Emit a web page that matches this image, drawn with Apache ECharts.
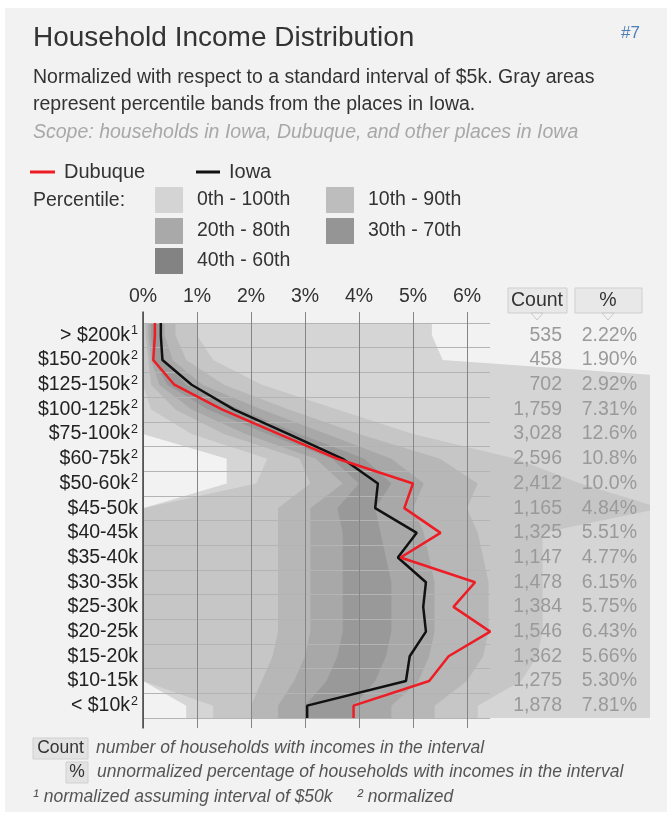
<!DOCTYPE html>
<html>
<head>
<meta charset="utf-8">
<script src="https://cdn.jsdelivr.net/npm/echarts@6/dist/echarts.min.js"></script>
<style>
  html, body { margin: 0; padding: 0; background: #fff; }
  #panel { position: absolute; left: 5px; top: 8px; width: 662px; height: 804px; background: #f2f2f2; }
  #chart { position: absolute; left: 0; top: 0; width: 672px; height: 816px; }
</style>
</head>
<body>
<div id="panel"></div>
<div id="chart"></div>
<script>
// income brackets, top to bottom
const brackets = ['> $200k', '$150-200k', '$125-150k', '$100-125k', '$75-100k', '$60-75k', '$50-60k',
  '$45-50k', '$40-45k', '$35-40k', '$30-35k', '$25-30k', '$20-25k', '$15-20k', '$10-15k', '< $10k'];
const notes = ['1', '2', '2', '2', '2', '2', '2', '', '', '', '', '', '', '', '', '2'];
const counts = [535, 458, 702, 1759, 3028, 2596, 2412, 1165, 1325, 1147, 1478, 1384, 1546, 1362, 1275, 1878];
const shares = [2.22, 1.90, 2.92, 7.31, 12.6, 10.8, 10.0, 4.84, 5.51, 4.77, 6.15, 5.75, 6.43, 5.66, 5.30, 7.81];

// normalized % per $5k
const dubuque = [0.22, 0.19, 0.58, 1.46, 2.52, 3.6, 5.0, 4.84, 5.51, 4.77, 6.15, 5.75, 6.43, 5.66, 5.30, 3.9];
const iowa = [0.33, 0.36, 0.9, 1.68, 2.7, 3.7, 4.35, 4.3, 5.07, 4.72, 5.24, 5.19, 5.24, 4.94, 4.87, 3.04];

// percentile bands from the places in Iowa
const p0 = [0, 0, 0, 0, 0, 1.55, 1.55, 0, 0, 0, 0, 0, 0, 0, 0, 0.8];
const p10 = [0, 0, 0, 0.15, 0.9, 2.3, 2.1, 0, 0, 0, 0, 0, 0, 0, 0, 1.3];
const p20 = [0.05, 0.1, 0.15, 0.6, 1.5, 2.9, 3.1, 2.5, 2.5, 2.5, 2.5, 2.5, 2.5, 2.4, 2.2, 2.0];
const p30 = [0.1, 0.15, 0.3, 0.9, 1.9, 3.2, 3.7, 3.1, 3.1, 3.1, 3.1, 3.1, 3.1, 3.0, 2.8, 2.5];
const p40 = [0.15, 0.2, 0.45, 1.2, 2.3, 3.5, 4.0, 3.6, 3.7, 3.7, 3.7, 3.7, 3.7, 3.6, 3.4, 3.0];
const p60 = [0.3, 0.4, 0.8, 1.8, 2.9, 4.1, 4.6, 4.3, 4.4, 4.5, 4.6, 4.6, 4.6, 4.5, 4.3, 3.9];
const p70 = [0.4, 0.55, 1.1, 2.2, 3.4, 4.6, 5.2, 5.0, 5.2, 5.3, 5.4, 5.4, 5.4, 5.3, 5.1, 4.6];
const p80 = [0.6, 0.8, 1.5, 2.7, 4.0, 5.5, 6.2, 6.0, 6.2, 6.3, 6.4, 6.4, 6.4, 6.3, 6.0, 5.4];
const p90 = [1.0, 1.3, 2.2, 3.6, 5.0, 6.9, 8.1, 9.6, 7.4, 7.4, 7.4, 7.4, 7.4, 7.3, 7.0, 6.2];
const p100 = [5.35, 5.55, 12, 12, 12, 12, 12, 12, 12, 12, 12, 12, 12, 12, 12, 12];

const bandNames = ['0th - 100th', '10th - 90th', '20th - 80th', '30th - 70th', '40th - 60th'];
const bandLo = [p0, p10, p20, p30, p40];
const bandHi = [p100, p90, p80, p70, p60];
const bandFill = ['#d5d5d5', '#c6c6c6', '#b7b7b7', '#a8a8a8', '#999999'];
const swatchFill = ['#d4d4d4', '#bdbdbd', '#a9a9a9', '#959595', '#838383'];

const FONT = '"Liberation Sans", Arial, sans-serif';
const n = brackets.length;
const X_MAX = 9.39;

// points at row centres, stretched to the top and bottom edges
const rowPoints = vals => [[vals[0], 0]].concat(vals.map((v, i) => [v, i + 0.5]), [[vals[n - 1], n]]);

// cut a polygon (data space) at the right end of the axis
function clipRight(poly, xmax) {
  const out = [];
  for (let i = 0; i < poly.length; i++) {
    const a = poly[i], b = poly[(i + 1) % poly.length];
    const ain = a[0] <= xmax, bin = b[0] <= xmax;
    if (ain) out.push(a);
    if (ain !== bin) {
      const t = (xmax - a[0]) / (b[0] - a[0]);
      out.push([xmax, a[1] + t * (b[1] - a[1])]);
    }
  }
  return out;
}

const txt = (x, y, text, size, color, extra) => ({
  type: 'text', x: x, y: y, z: 10,
  style: Object.assign({ text: text, fontSize: size, fontFamily: FONT, fill: color, verticalAlign: 'middle', align: 'left' }, extra || {})
});

const graphics = [
  txt(33, 38, 'Household Income Distribution', 28, '#333'),
  txt(640, 33, '#7', 17, '#4f7fb8', { align: 'right' }),
  txt(33, 78, 'Normalized with respect to a standard interval of $5k. Gray areas', 19.5, '#333'),
  txt(33, 105, 'represent percentile bands from the places in Iowa.', 19.5, '#333'),
  txt(33, 133, 'Scope: households in Iowa, Dubuque, and other places in Iowa', 19.5, '#a8a8a8', { fontStyle: 'italic' }),
  { type: 'line', z: 10, shape: { x1: 30, y1: 172, x2: 55, y2: 172 }, style: { stroke: '#ee1c25', lineWidth: 3 } },
  txt(64, 172, 'Dubuque', 20, '#333'),
  { type: 'line', z: 10, shape: { x1: 196, y1: 172, x2: 220, y2: 172 }, style: { stroke: '#111', lineWidth: 3 } },
  txt(229, 172, 'Iowa', 20, '#333'),
  txt(33, 201, 'Percentile:', 19.5, '#333')
];
const swatchPos = [[155, 200], [326, 200], [155, 231], [326, 231], [155, 261]];
bandNames.forEach((name, k) => {
  const [sx, sy] = swatchPos[k];
  graphics.push({ type: 'rect', z: 10, shape: { x: sx, y: sy - 13, width: 28, height: 26 }, style: { fill: swatchFill[k] } });
  graphics.push(txt(sx + 42, sy, name, 19.5, '#333'));
});
// column headers
[[508, 59, 'Count', 537], [575, 67, '%', 608]].forEach(([hx, hw, label, cx]) => {
  graphics.push({ type: 'rect', z: 10, shape: { x: hx, y: 288, width: hw, height: 25 }, style: { fill: '#e8e8e8', stroke: '#cfcfcf', lineWidth: 1 } });
  graphics.push({ type: 'polygon', z: 10, shape: { points: [[cx - 6, 313], [cx + 6, 313], [cx, 320]] }, style: { fill: '#f2f2f2', stroke: '#c8c8c8' } });
  graphics.push(txt(cx, 300.5, label, 19.5, '#333', { align: 'center' }));
});
// footnotes
graphics.push({ type: 'rect', z: 10, shape: { x: 33, y: 738, width: 55, height: 21 }, style: { fill: '#e3e3e3', stroke: '#d0d0d0' } });
graphics.push(txt(60.5, 748.5, 'Count', 17.5, '#333', { align: 'center' }));
graphics.push(txt(96, 748, 'number of households with incomes in the interval', 17.5, '#555', { fontStyle: 'italic' }));
graphics.push({ type: 'rect', z: 10, shape: { x: 66, y: 762, width: 22, height: 21 }, style: { fill: '#e3e3e3', stroke: '#d0d0d0' } });
graphics.push(txt(77, 772.5, '%', 17.5, '#333', { align: 'center' }));
graphics.push(txt(97, 772, 'unnormalized percentage of households with incomes in the interval', 17.5, '#555', { fontStyle: 'italic' }));
graphics.push(txt(33, 797, '¹ normalized assuming interval of $50k', 17.5, '#555', { fontStyle: 'italic' }));
graphics.push(txt(357, 797, '² normalized', 17.5, '#555', { fontStyle: 'italic' }));

const chart = echarts.init(document.getElementById('chart'));
chart.setOption({
  animation: false,
  textStyle: { fontFamily: FONT },
  graphic: graphics,
  grid: [
    { left: 143, top: 323, width: 507, height: 395 },  // bands and lines
    { left: 143, top: 312, width: 324, height: 416 },  // % ticks and vertical grid
    { left: 143, top: 323, width: 347, height: 395 }   // row lines
  ],
  xAxis: [
    { gridIndex: 0, type: 'value', min: 0, max: X_MAX, show: false },
    {
      gridIndex: 1, type: 'value', min: 0, max: 6, interval: 1, position: 'top', z: 3,
      axisLine: { show: false }, axisTick: { show: false },
      axisLabel: { formatter: '{value}%', margin: 5, fontSize: 19.5, color: '#333' },
      splitLine: { show: true, lineStyle: { color: '#858585', width: 1 } }
    },
    { gridIndex: 2, type: 'value', min: 0, max: 1, show: false }
  ],
  yAxis: [
    {
      gridIndex: 0, type: 'category', data: brackets, inverse: true, position: 'left', z: 3,
      axisLine: { show: false }, axisTick: { show: false }, splitLine: { show: false },
      axisLabel: {
        interval: 0, fontSize: 19.5, color: '#222', margin: 5, lineHeight: 22,
        formatter: (v, i) => v + (notes[i] ? '{s|' + notes[i] + '}' : ''),
        rich: { s: { fontSize: 12.5, lineHeight: 12, verticalAlign: 'top', color: '#222', padding: [0, 0, 0, 1] } }
      }
    },
    { gridIndex: 0, type: 'value', min: 0, max: n, inverse: true, show: false },
    {
      gridIndex: 0, type: 'category', data: brackets, inverse: true, position: 'right', z: 4,
      axisLine: { show: false }, axisTick: { show: false }, splitLine: { show: false },
      axisLabel: {
        interval: 0, inside: true, margin: 13,
        formatter: (v, i) => '{c|' + counts[i].toLocaleString('en-US') + '}{p|' + shares[i].toPrecision(3) + '%}',
        rich: {
          c: { width: 60, align: 'right', fontSize: 19.5, color: '#9a9a9a' },
          p: { width: 75, align: 'right', fontSize: 19.5, color: '#9a9a9a' }
        }
      }
    },
    {
      gridIndex: 1, type: 'value', min: 0, max: 1, z: 3,
      axisLine: { show: true, lineStyle: { color: '#444', width: 1.5 } },
      axisTick: { show: false }, axisLabel: { show: false }, splitLine: { show: false }
    },
    {
      gridIndex: 2, type: 'category', data: brackets, inverse: true, z: 3,
      axisLine: { show: false }, axisTick: { show: false }, axisLabel: { show: false },
      splitLine: { show: true, interval: 0, lineStyle: { color: '#b4b4b4', width: 1 } }
    }
  ],
  series: [
    {
      type: 'custom', xAxisIndex: 0, yAxisIndex: 1, z: 1,
      data: bandNames.map((b, k) => k),
      renderItem: (params, api) => {
        const k = params.dataIndex;
        const poly = clipRight(rowPoints(bandLo[k]).concat(rowPoints(bandHi[k]).reverse()), X_MAX);
        return { type: 'polygon', shape: { points: poly.map(p => api.coord(p)) }, style: { fill: bandFill[k] } };
      }
    },
    {
      name: 'Iowa', type: 'line', xAxisIndex: 0, yAxisIndex: 1, z: 5, symbol: 'none',
      data: rowPoints(iowa), lineStyle: { color: '#111', width: 2.5 }
    },
    {
      name: 'Dubuque', type: 'line', xAxisIndex: 0, yAxisIndex: 1, z: 6, symbol: 'none',
      data: rowPoints(dubuque), lineStyle: { color: '#ee1c25', width: 2.5 }
    }
  ]
});
</script>
</body>
</html>
